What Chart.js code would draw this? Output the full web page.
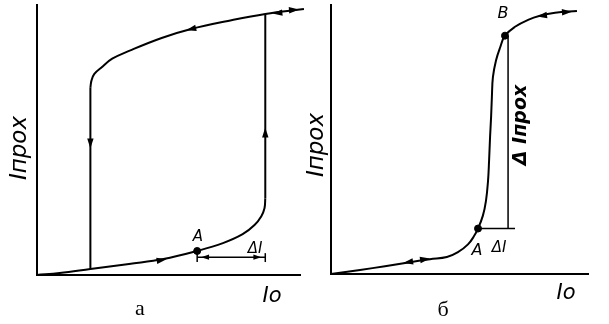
<!DOCTYPE html>
<html>
<head>
<meta charset="utf-8">
<script src="https://cdn.jsdelivr.net/npm/chart.js@4/dist/chart.umd.min.js"></script>
<style>
body{margin:0;background:#fff;width:609px;height:324px;position:relative;overflow:hidden}
.box{position:absolute;top:0;height:324px}
</style>
</head>
<body>
<div class="box" style="left:0;width:305px"><canvas id="chartA"></canvas></div>
<div class="box" style="left:305px;width:304px"><canvas id="chartB"></canvas></div>
<script>
// panel "а": loop, relative units (Io, Iпрох) 0..100
var riseX = [0, 8.6, 20.3, 35, 48.1, 60.9, 70.7, 78.2, 82.7, 85.3, 86.5, 86.8];
var riseY = [0, 0.7, 2.2, 4.1, 5.9, 8.9, 11.8, 15.1, 18.5, 21.8, 24.7, 28.4];
var jumpX = [86.8, 86.8];
var jumpY = [28.4, 96.7];
var topX = [101.5, 86.8, 72.6, 58.6, 47.4, 35, 28.6, 24.4, 21.8, 20.7, 20.3];
var topY = [98.5, 96.7, 94.1, 91.1, 87.8, 83.0, 80.1, 76.8, 74.5, 72.0, 69.4];
var dropX = [20.3, 20.3];
var dropY = [69.4, 2.2];
var pointA1 = [60.9, 8.9];
var dI1X = [60.9, 86.8];
var dI1Y = 6.6;

// panel "б": single curve, relative units
var curveX = [0, 11.3, 21, 30.7, 38.5, 45.1, 49.4, 53.3, 55.6, 57.2, 59.1, 60.3, 61.1, 61.5, 61.9, 62.3, 62.6, 63, 64.2, 65.8, 67.7, 71.6, 76.7, 81.3, 87.2, 95.7];
var curveY = [0, 1.5, 2.9, 4.4, 5.5, 6.3, 8.1, 11, 14, 16.9, 21.7, 27.2, 34.6, 41.9, 51.1, 58.5, 65.8, 73.2, 79.4, 84.2, 88.6, 91.9, 94.5, 96, 97.1, 97.8];
var pointA2 = [57.2, 16.9];
var pointB2 = [67.7, 88.6];
var dIprohX = 68.9;
var dI2End = 71.6;

function pts(xs, ys) {
  return xs.map(function (x, i) { return { x: x, y: ys[i] }; });
}

function line(data, w, tension) {
  return { data: data, borderColor: '#000', borderWidth: w, pointRadius: 0, tension: tension, clip: false, fill: false };
}

function dot(p) {
  return { data: [{ x: p[0], y: p[1] }], showLine: false, pointRadius: 3.5, pointBackgroundColor: '#000', pointBorderColor: '#000', clip: false };
}

function axes() {
  var common = {
    type: 'linear', min: 0, max: 100,
    grid: { display: false }, ticks: { display: false },
    border: { color: '#000', width: 2 }
  };
  return {
    x: Object.assign({}, common, { afterFit: function (s) { s.height = 0; } }),
    y: Object.assign({}, common, { afterFit: function (s) { s.width = 0; } })
  };
}

// arrowheads and labels
var figurePlugin = {
  id: 'figure',
  afterDatasetsDraw: function (chart, args, opts) {
    var ctx = chart.ctx, xs = chart.scales.x, ys = chart.scales.y;
    ctx.save();
    ctx.fillStyle = '#000';
    (opts.arrows || []).forEach(function (a) {
      var px = xs.getPixelForValue(a[0]), py = ys.getPixelForValue(a[1]);
      var qx = xs.getPixelForValue(a[0] + a[2]), qy = ys.getPixelForValue(a[1] + a[3]);
      var dx = qx - px, dy = qy - py, n = Math.sqrt(dx * dx + dy * dy);
      dx /= n; dy /= n;
      var len = a[4] || 10, w = (a[4] || 10) * 0.32;
      ctx.beginPath();
      ctx.moveTo(px + dx * len / 2, py + dy * len / 2);
      ctx.lineTo(px - dx * len / 2 - dy * w, py - dy * len / 2 + dx * w);
      ctx.lineTo(px - dx * len / 2 + dy * w, py - dy * len / 2 - dx * w);
      ctx.closePath();
      ctx.fill();
    });
    ctx.textAlign = 'center';
    ctx.textBaseline = 'middle';
    (opts.labels || []).forEach(function (l) {
      ctx.save();
      ctx.font = l.font;
      ctx.translate(l.x, l.y);
      if (l.rot) ctx.rotate(l.rot);
      ctx.fillText(l.text, 0, 0);
      ctx.restore();
    });
    ctx.restore();
  }
};

var sans = '"DejaVu Sans", sans-serif';
var serif = '"Liberation Serif", serif';

new Chart(document.getElementById('chartA'), {
  type: 'line',
  data: {
    datasets: [
      line(pts(riseX, riseY), 2, 0.4),
      line(pts(jumpX, jumpY), 2, 0),
      line(pts(topX, topY), 2, 0.4),
      line(pts(dropX, dropY), 2, 0),
      line(pts(dI1X, [dI1Y, dI1Y]), 1.5, 0),
      line(pts([dI1X[0], dI1X[0]], [4.8, pointA1[1]]), 1.5, 0),
      line(pts([dI1X[1], dI1X[1]], [4.8, 8.1]), 1.5, 0),
      dot(pointA1)
    ]
  },
  options: {
    responsive: true, maintainAspectRatio: false, animation: false,
    layout: { padding: { left: 37, right: 2, top: 4, bottom: 49 } },
    scales: axes(),
    plugins: {
      legend: { display: false }, tooltip: { enabled: false },
      figure: {
        arrows: [
          [47.4, 5.5, 5, 0.8], [86.8, 52.8, 0, 1], [58.6, 91.1, -5, -1.2], [20.3, 48.7, 0, -1],
          [91.4, 97, -5, -0.5], [97.7, 98.2, 5, 0.4], [63.9, dI1Y, -1, 0, 8], [83.8, dI1Y, 1, 0, 8]
        ],
        labels: [
          { text: 'Iпрох', x: 20, y: 148, rot: -Math.PI / 2, font: 'oblique 23px ' + sans },
          { text: 'A', x: 198, y: 237, font: 'oblique 15px ' + sans },
          { text: 'ΔI', x: 255, y: 249, font: 'oblique 15px ' + sans },
          { text: 'Io', x: 272, y: 297, font: 'oblique 21px ' + sans },
          { text: 'а', x: 140, y: 309, font: '22px ' + serif }
        ]
      }
    }
  },
  plugins: [figurePlugin]
});

new Chart(document.getElementById('chartB'), {
  type: 'line',
  data: {
    datasets: [
      line(pts(curveX, curveY), 2, 0.4),
      line(pts([dIprohX, dIprohX], [pointB2[1], pointA2[1]]), 1.5, 0),
      line(pts([pointA2[0], dI2End], [pointA2[1], pointA2[1]]), 1.5, 0),
      dot(pointA2),
      dot(pointB2)
    ]
  },
  options: {
    responsive: true, maintainAspectRatio: false, animation: false,
    layout: { padding: { left: 26, right: 21, top: 2, bottom: 50 } },
    scales: axes(),
    plugins: {
      legend: { display: false }, tooltip: { enabled: false },
      figure: {
        arrows: [
          [30, 4.4, -5, -0.8], [36.6, 5.5, 5, 0.8], [82.1, 96, -5, -0.7], [91.8, 97.4, 5, 0.3]
        ],
        labels: [
          { text: 'Iпрох', x: 12, y: 145, rot: -Math.PI / 2, font: 'oblique 23px ' + sans },
          { text: 'B', x: 198, y: 14, font: 'oblique 16px ' + sans },
          { text: 'A', x: 172, y: 251, font: 'oblique 16px ' + sans },
          { text: 'ΔI', x: 194, y: 248, font: 'oblique 15px ' + sans },
          { text: 'Δ Iпрох', x: 216, y: 125, rot: -Math.PI / 2, font: 'bold oblique 19px ' + sans },
          { text: 'Io', x: 261, y: 294, font: 'oblique 21px ' + sans },
          { text: 'б', x: 138, y: 310, font: '22px ' + serif }
        ]
      }
    }
  },
  plugins: [figurePlugin]
});
</script>
</body>
</html>
